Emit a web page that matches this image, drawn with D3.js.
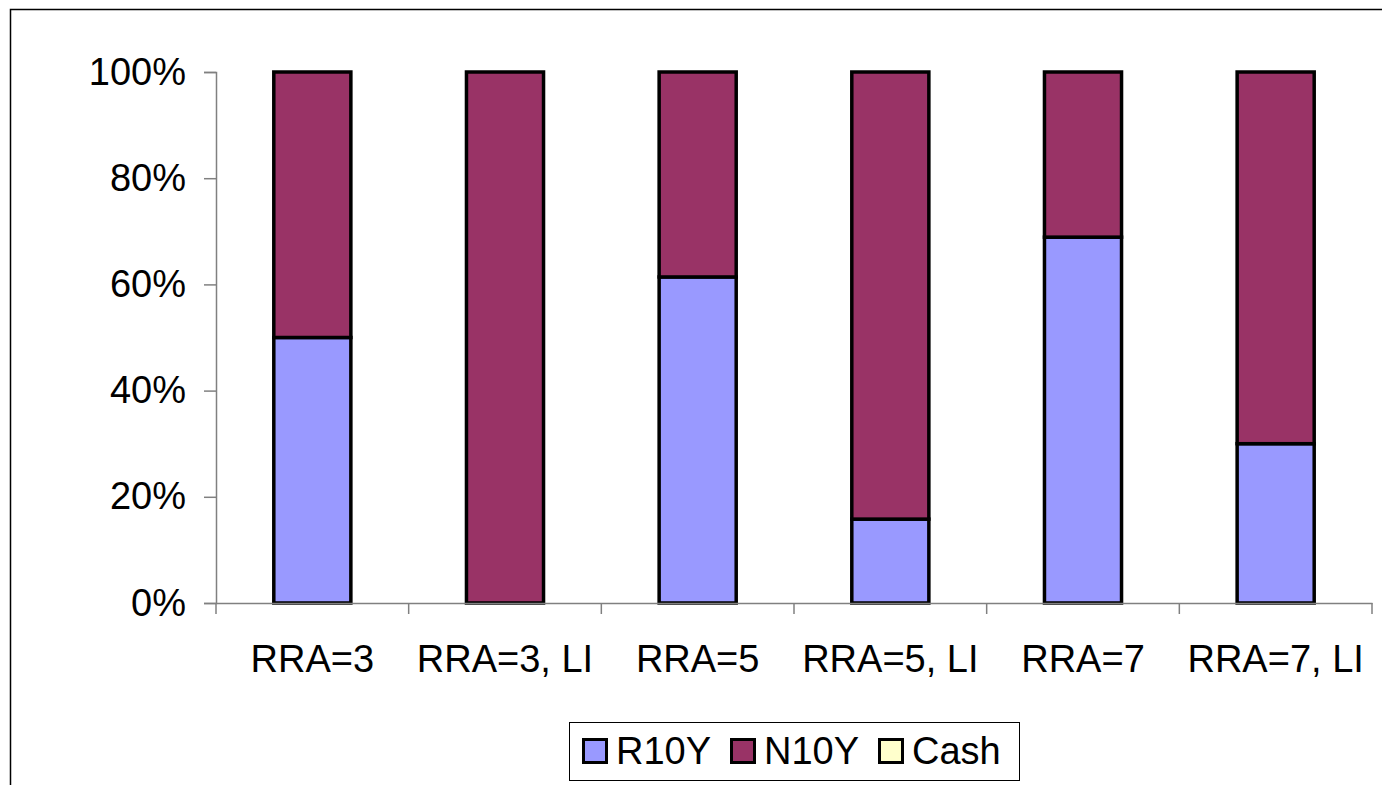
<!DOCTYPE html>
<html><head><meta charset="utf-8">
<script src="https://cdn.jsdelivr.net/npm/d3@7"></script>
<style>html,body{margin:0;padding:0;background:#fff;overflow:hidden}text{font-family:"Liberation Sans",Arial,sans-serif}</style>
</head><body>
<svg id="c" width="1382" height="785"></svg>
<script>
const categories = ["RRA=3","RRA=3, LI","RRA=5","RRA=5, LI","RRA=7","RRA=7, LI"];
const seriesNames = ["R10Y","N10Y","Cash"];
const r10y = [0.50, 0.00, 0.614, 0.158, 0.689, 0.30];
const n10y = [0.50, 1.00, 0.386, 0.842, 0.311, 0.70];
const cash = [0, 0, 0, 0, 0, 0];
const colors = ["#9999FF","#993366","#FFFFCC"];
const yTicks = [0,0.2,0.4,0.6,0.8,1.0];

(function(){
const svg = d3.select("#c");
svg.append("rect").attr("x",10.5).attr("y",9.5).attr("width",1400).attr("height",800)
  .attr("fill","none").attr("stroke","#000").attr("stroke-width",1.5);

const pL=216, pR=1372, pT=72, pB=603;
const x = d3.scaleBand().domain(categories).range([pL,pR]).paddingInner(0).paddingOuter(0);
const y = d3.scaleLinear().domain([0,1]).range([pB,pT]);

const table = categories.map((c,i)=>({cat:c,R10Y:r10y[i],N10Y:n10y[i],Cash:cash[i]}));
const stacked = d3.stack().keys(seriesNames)(table);

const bw = x.bandwidth()*0.4;
stacked.forEach((s,si)=>{
  svg.append("g").selectAll("rect").data(s).join("rect")
    .attr("x",d=>x(d.data.cat)+x.bandwidth()/2-bw/2)
    .attr("y",d=>y(d[1]))
    .attr("width",bw)
    .attr("height",d=>Math.max(0,y(d[0])-y(d[1])))
    .attr("fill",colors[si])
    .attr("stroke","#000").attr("stroke-width",3.5)
    .style("display",d=>(d[1]-d[0])>0||si===0?null:"none");
});

const ya = svg.append("g").attr("transform",`translate(${pL},0)`)
  .call(d3.axisLeft(y).tickValues(yTicks).tickFormat(d3.format(".0%")).tickSize(12).tickPadding(18));
ya.select(".domain").attr("stroke","#808080").attr("stroke-width",1.5);
ya.selectAll(".tick line").attr("stroke","#808080").attr("stroke-width",1.5);
ya.selectAll(".tick text").attr("font-size",38).attr("fill","#000")
  .attr("font-family","Liberation Sans, Arial, sans-serif");

const xa = svg.append("g").attr("transform",`translate(0,${pB})`)
  .call(d3.axisBottom(x).tickSize(0).tickPadding(42));
xa.select(".domain").attr("stroke","#808080").attr("stroke-width",1.5);
xa.selectAll(".tick text").attr("font-size",38).attr("fill","#000")
  .attr("font-family","Liberation Sans, Arial, sans-serif");
const bounds = categories.map(c=>x(c)).concat([x(categories[categories.length-1])+x.bandwidth()]);
svg.append("g").selectAll("line").data(bounds).join("line")
  .attr("x1",d=>d).attr("x2",d=>d).attr("y1",pB).attr("y2",pB+11)
  .attr("stroke","#808080").attr("stroke-width",1.5);

const lg = svg.append("g");
lg.append("rect").attr("x",569.5).attr("y",722.5).attr("width",450).attr("height",58)
  .attr("fill","#fff").attr("stroke","#000").attr("stroke-width",1);
const lx = [582, 730, 878];
seriesNames.forEach((n,i)=>{
  lg.append("rect").attr("x",lx[i]+1.5).attr("y",739.5).attr("width",23).attr("height",23)
    .attr("fill",colors[i]).attr("stroke","#000").attr("stroke-width",3);
  lg.append("text").attr("x",lx[i]+34).attr("y",764).attr("font-size",38).attr("fill","#000").text(n);
});
})();
</script>
</body></html>
